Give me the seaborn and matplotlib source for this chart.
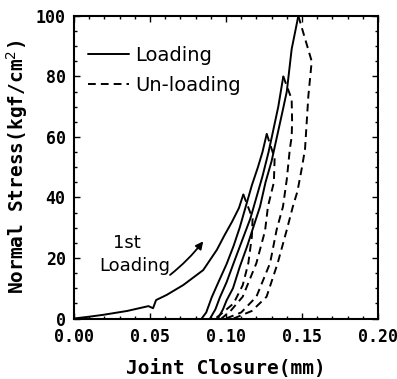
import pandas as pd
import matplotlib.pyplot as plt
import seaborn as sns
from matplotlib.lines import Line2D
from matplotlib.ticker import MultipleLocator

# --- data: joint closure (mm) vs normal stress (kgf/cm2) ---
load1_x = [0.000, 0.010, 0.019, 0.035, 0.049, 0.052, 0.054, 0.061, 0.072, 0.085, 0.094, 0.099, 0.104, 0.1085, 0.1114]
load1_y = [0.0, 0.6, 1.2, 2.5, 4.1, 3.4, 6.1, 7.8, 11.1, 16.0, 22.7, 27.5, 32.0, 36.5, 41.0]

load2_x = [0.084, 0.087, 0.0906, 0.095, 0.1004, 0.105, 0.109, 0.113, 0.117, 0.121, 0.124, 0.1268]
load2_y = [0.0, 2.0, 7.0, 12.0, 18.0, 24.0, 30.0, 37.0, 44.0, 50.0, 55.0, 61.0]

load3_x = [0.0895, 0.093, 0.096, 0.1004, 0.1048, 0.110, 0.116, 0.120, 0.124, 0.128, 0.131, 0.1344, 0.1377]
load3_y = [0.0, 3.0, 7.0, 12.0, 18.0, 25.0, 33.0, 40.0, 47.0, 55.0, 62.0, 70.0, 80.0]

load4_x = [0.0947, 0.098, 0.1004, 0.1046, 0.109, 0.114, 0.1185, 0.1224, 0.126, 0.130, 0.1335, 0.137, 0.140, 0.1432, 0.1476]
load4_y = [0.0, 3.0, 6.0, 10.0, 17.0, 24.0, 31.0, 37.0, 45.0, 52.0, 60.0, 68.0, 75.0, 89.0, 100.0]

unload1_x = [0.1114, 0.1175, 0.117, 0.1147, 0.111, 0.105, 0.098, 0.093]
unload1_y = [41.0, 33.0, 27.0, 18.3, 11.0, 5.0, 2.0, 0.0]

unload2_x = [0.1268, 0.132, 0.1315, 0.1276, 0.1257, 0.120, 0.111, 0.103, 0.097]
unload2_y = [61.0, 53.0, 45.0, 37.0, 29.0, 18.3, 7.2, 2.5, 0.0]

unload3_x = [0.1377, 0.1432, 0.1435, 0.1432, 0.142, 0.140, 0.1375, 0.1333, 0.129, 0.120, 0.110, 0.100]
unload3_y = [80.0, 72.5, 65.0, 60.0, 56.0, 46.0, 37.0, 29.3, 18.3, 7.2, 2.0, 0.0]

unload4_x = [0.1476, 0.1564, 0.1542, 0.152, 0.150, 0.147, 0.144, 0.140, 0.134, 0.1267, 0.117, 0.105]
unload4_y = [100.0, 85.0, 73.6, 56.0, 50.0, 42.0, 37.0, 29.3, 18.3, 7.2, 2.5, 0.0]

x_ticks = [0.00, 0.05, 0.10, 0.15, 0.20]
x_tick_labels = ['0.00', '0.05', '0.10', '0.15', '0.20']
y_ticks = [0, 20, 40, 60, 80, 100]

curves = [
    (load1_x, load1_y, 'solid'), (load2_x, load2_y, 'solid'),
    (load3_x, load3_y, 'solid'), (load4_x, load4_y, 'solid'),
    (unload1_x, unload1_y, 'dashed'), (unload2_x, unload2_y, 'dashed'),
    (unload3_x, unload3_y, 'dashed'), (unload4_x, unload4_y, 'dashed'),
]

sns.set_style('ticks')
plt.rcParams['font.family'] = ['DejaVu Sans']
plt.rcParams['text.color'] = 'black'

fig = plt.figure(figsize=(3.97, 3.79), dpi=100)
ax = fig.add_axes([0.1864, 0.1596, 0.7657, 0.7984])

dash_pattern = (4.0, 2.6)
for cx, cy, style in curves:
    df = pd.DataFrame({'x': cx, 'y': cy})
    line_ax = sns.lineplot(data=df, x='x', y='y', ax=ax, sort=False, estimator=None,
                           color='black', linewidth=1.4)
    if style == 'dashed':
        line_ax.lines[-1].set_dashes(dash_pattern)

ax.set_xlim(0, 0.2)
ax.set_ylim(0, 100)
ax.set_xticks(x_ticks)
ax.set_xticklabels(x_tick_labels)
ax.set_yticks(y_ticks)
ax.xaxis.set_minor_locator(MultipleLocator(0.01))
ax.yaxis.set_minor_locator(MultipleLocator(5))
ax.tick_params(which='both', direction='in', top=True, right=True, width=1.0, color='black')
ax.tick_params(which='major', length=4)
ax.tick_params(which='minor', length=2)
ax.tick_params(axis='x', which='major', pad=7)
ax.tick_params(axis='y', which='major', pad=6)
for lab in ax.get_xticklabels() + ax.get_yticklabels():
    lab.set_family('DejaVu Sans Mono')
    lab.set_fontsize(12)
    lab.set_weight('bold')
    lab.set_color('black')
for sp in ax.spines.values():
    sp.set_linewidth(1.5)
    sp.set_color('black')

ax.set_xlabel('Joint Closure(mm)', family='DejaVu Sans Mono', fontsize=14, weight='bold',
              color='black', labelpad=9)
ax.set_ylabel('Normal Stress(kgf/cm$^2$)', family='DejaVu Sans Mono', fontsize=14, weight='bold',
              color='black', labelpad=4)

# annotation for the first loading path
ax.text(0.0347, 25.0, '1st', ha='center', va='center', fontsize=13, color='black')
ax.text(0.040, 17.2, 'Loading', ha='center', va='center', fontsize=13, color='black')
ax.annotate('', xy=(0.085, 25.5), xytext=(0.0632, 14.4),
            arrowprops=dict(arrowstyle='-|>', color='black', lw=1.3, mutation_scale=11,
                            shrinkA=0, shrinkB=0, connectionstyle='arc3,rad=0.06'))

handles = [Line2D([], [], color='black', lw=1.4, label='Loading'),
           Line2D([], [], color='black', lw=1.4, dashes=dash_pattern, label='Un-loading')]
leg = ax.legend(handles=handles, loc='upper left', bbox_to_anchor=(0.0, 0.945), frameon=False,
                fontsize=14, handlelength=2.15, handletextpad=0.3, labelspacing=0.55, borderaxespad=0.3)
for t in leg.get_texts():
    t.set_color('black')

fig.savefig('out.png', dpi=100)
